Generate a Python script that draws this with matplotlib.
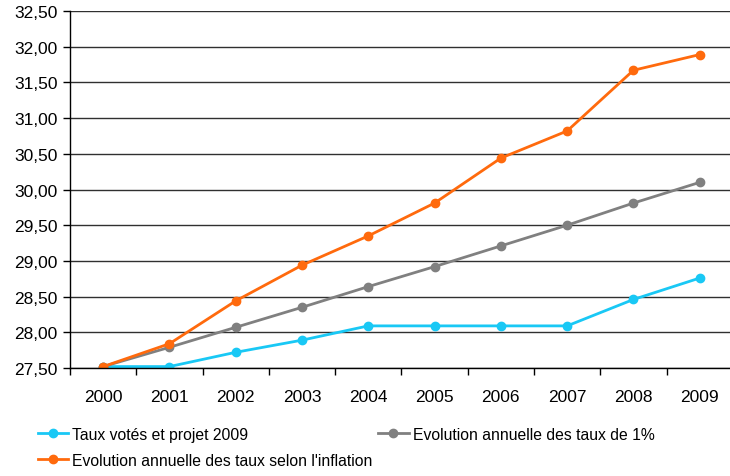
import matplotlib.pyplot as plt
from matplotlib.ticker import FuncFormatter

plt.rcParams['font.family'] = ['Liberation Sans', 'DejaVu Sans']

years = ['2000', '2001', '2002', '2003', '2004', '2005', '2006', '2007', '2008', '2009']
taux_votes = [27.52, 27.52, 27.72, 27.89, 28.09, 28.09, 28.09, 28.09, 28.46, 28.76]
evol_1pct = [27.52, 27.79, 28.07, 28.35, 28.64, 28.92, 29.21, 29.50, 29.81, 30.10]
evol_inflation = [27.52, 27.84, 28.44, 28.94, 29.35, 29.81, 30.44, 30.82, 31.67, 31.89]

fig = plt.figure(figsize=(7.3, 4.77), dpi=100)
ax = fig.add_axes([0.0959, 0.2264, 0.908, 0.7484])

x = list(range(len(years)))
l1, = ax.plot(x, taux_votes, color='#19C8F5', lw=2, marker='o', ms=6,
              label='Taux votés et projet 2009', zorder=3)
l2, = ax.plot(x, evol_1pct, color='#808080', lw=2, marker='o', ms=6,
              label='Evolution annuelle des taux de 1%', zorder=4)
l3, = ax.plot(x, evol_inflation, color='#FF6A0D', lw=2, marker='o', ms=6,
              label="Evolution annuelle des taux selon l'inflation", zorder=5)

ax.set_xlim(-0.5, 9.5)
ax.set_ylim(27.5, 32.5)
ax.set_yticks([27.5 + 0.5 * i for i in range(11)])
ax.yaxis.set_major_formatter(FuncFormatter(lambda v, p: f'{v:.2f}'.replace('.', ',')))
ax.set_xticks(x)
ax.set_xticklabels(years)
ax.set_xticks([i - 0.5 for i in range(len(years) + 1)], minor=True)
ax.tick_params(axis='x', which='major', length=0, pad=15, labelsize=12.5)
ax.tick_params(axis='x', which='minor', length=5, width=1, direction='out')
ax.tick_params(axis='y', length=5, width=1, pad=4, labelsize=12.5)

ax.grid(axis='y', color='#303030', lw=1)
ax.set_axisbelow(True)
for s in ['top', 'right']:
    ax.spines[s].set_visible(False)
for s in ['left', 'bottom']:
    ax.spines[s].set_color('black')
    ax.spines[s].set_linewidth(1)
    ax.spines[s].set_zorder(6)

fig.legend(handles=[l1, l3, l2], ncol=2, loc='upper left',
           bbox_to_anchor=(0.043, 0.116), frameon=False, fontsize=11.3,
           handlelength=1.95, handletextpad=0.25, columnspacing=0.35,
           labelspacing=0.68, borderaxespad=0)

fig.savefig('out.png', dpi=100)
